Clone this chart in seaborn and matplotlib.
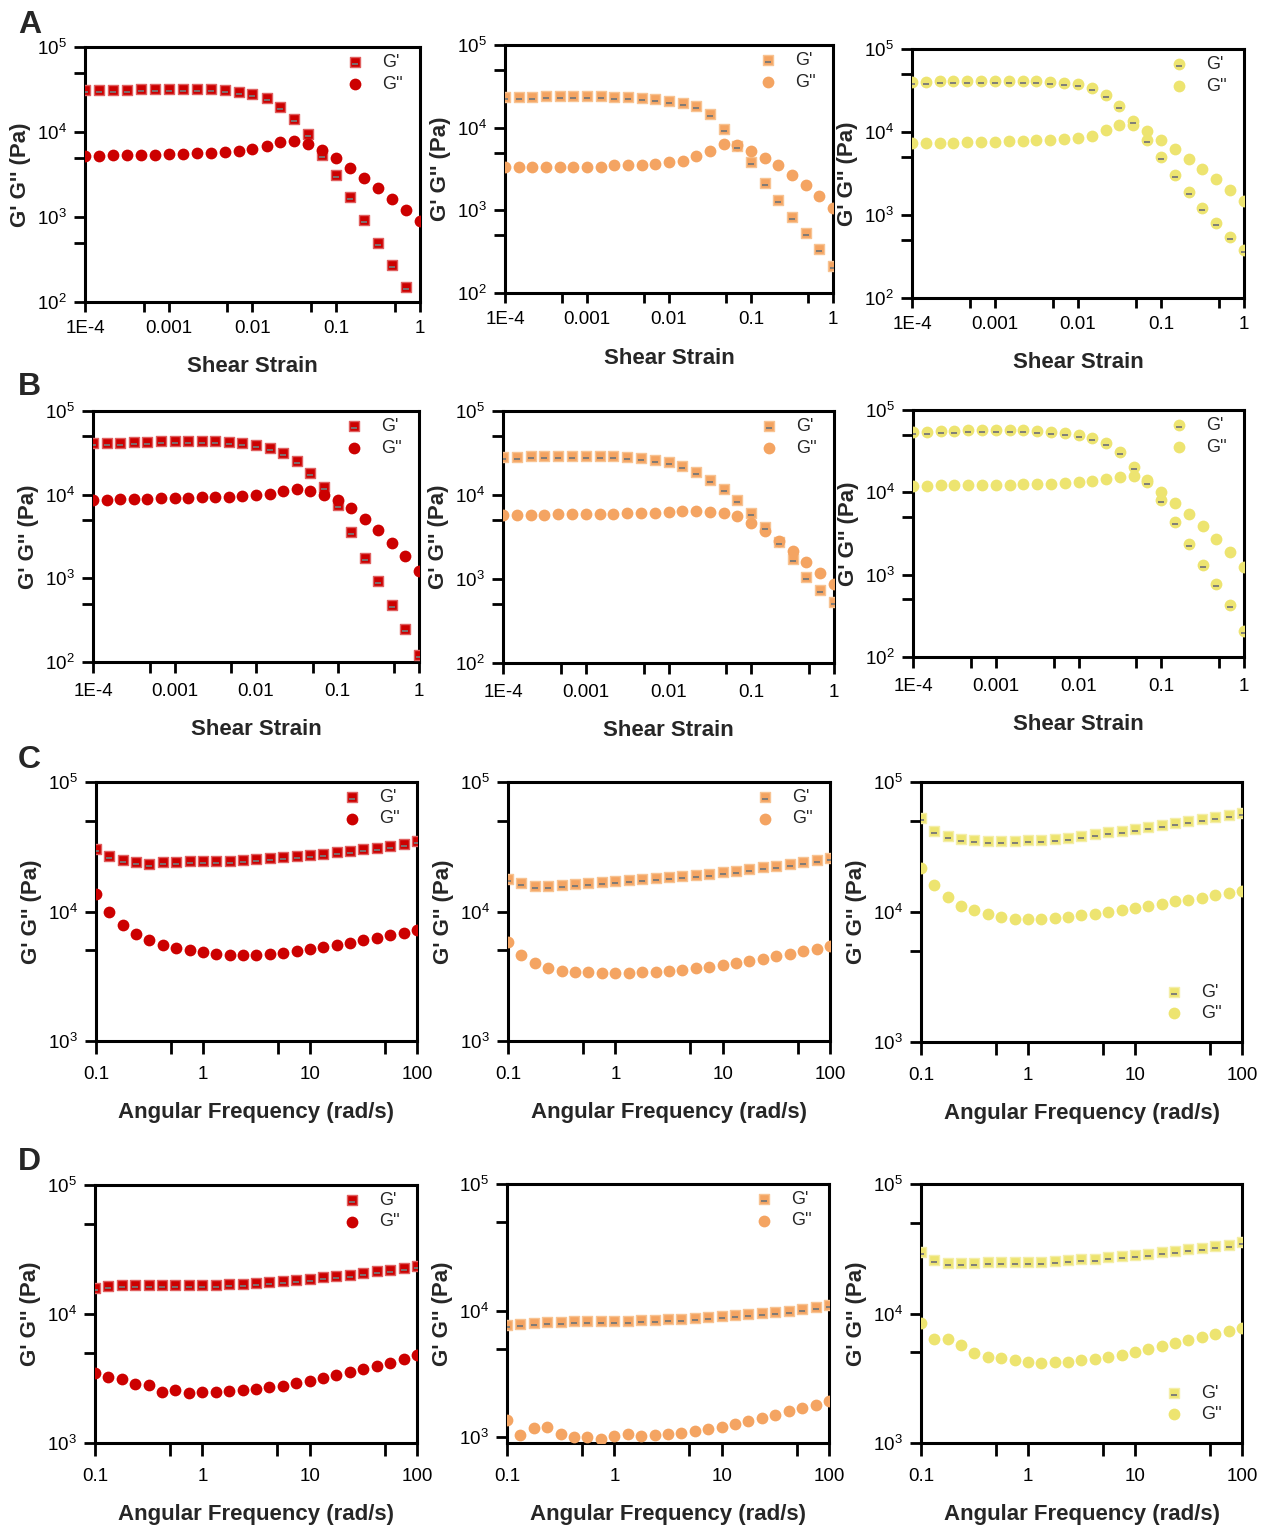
import numpy as np
import matplotlib
matplotlib.use("Agg")
import matplotlib.pyplot as plt
import seaborn as sns
from matplotlib.path import Path
from matplotlib.ticker import FixedLocator, NullFormatter, LogLocator, LogFormatterSciNotation
from matplotlib.legend_handler import HandlerTuple

nan = np.nan

# ---------------- data ----------------
strain = [1.00e-4, 1.47e-4, 2.15e-4, 3.16e-4, 4.64e-4, 6.81e-4,
          1.00e-3, 1.47e-3, 2.15e-3, 3.16e-3, 4.64e-3, 6.81e-3,
          1.00e-2, 1.47e-2, 2.15e-2, 3.16e-2, 4.64e-2, 6.81e-2,
          0.100, 0.147, 0.215, 0.316, 0.464, 0.681, 1.00]
freq = [0.1, 0.1334, 0.1778, 0.2371, 0.3162, 0.4217, 0.5623, 0.7499,
        1.0, 1.334, 1.778, 2.371, 3.162, 4.217, 5.623, 7.499,
        10.0, 13.34, 17.78, 23.71, 31.62, 42.17, 56.23, 74.99, 100.0]

A1_Gp = [30900, 30900, 30900, 31500, 31800, 31800, 32100, 32100, 31800, 31800, 30900, 29500,
         27700, 24800, 19900, 14300, 9380, 5310, 3150, 1720, 912, 489, 269, 152, nan]
A1_Gpp = [5210, 5210, 5310, 5310, 5360, 5410, 5460, 5560, 5660, 5710, 5820, 5980,
          6380, 6870, 7660, 7800, 7190, 6090, 4930, 3780, 2870, 2200, 1640, 1220, 888]
A2_Gp = [23600, 23600, 23600, 24300, 24300, 24300, 24300, 24300, 23600, 23600, 22900, 22300,
         21100, 20000, 18400, 14700, 9730, 6070, 3790, 2170, 1320, 824, 528, 339, 211]
A2_Gpp = [3300, 3300, 3300, 3300, 3390, 3390, 3390, 3390, 3490, 3490, 3580, 3680,
          3790, 4000, 4480, 5290, 6410, 6240, 5290, 4350, 3490, 2710, 2000, 1480, 1060]
A3_Gp = [40400, 40400, 40700, 41100, 41100, 41500, 41500, 41500, 41500, 41100, 40400, 38900,
         37500, 33900, 28200, 20400, 13500, 8090, 5000, 3060, 1880, 1210, 801, 543, 375]
A3_Gpp = [7360, 7360, 7360, 7430, 7510, 7580, 7650, 7730, 7800, 7950, 8020, 8170,
          8400, 8960, 10700, 12100, 12200, 10200, 8090, 6240, 4730, 3620, 2740, 2020, 1490]

B1_Gp = [41500, 41500, 41900, 42200, 43000, 43400, 43800, 43800, 43800, 43400, 43000, 41500,
         39600, 36500, 31500, 25000, 18100, 12300, 7470, 3580, 1750, 920, 484, 250, 120]
B1_Gpp = [8710, 8710, 8790, 8870, 8960, 9040, 9120, 9200, 9290, 9370, 9460, 9550,
          9820, 10200, 11200, 11700, 11200, 9910, 8710, 6930, 5170, 3750, 2670, 1850, 1220]
B2_Gp = [28300, 28300, 28800, 29100, 29400, 29400, 29400, 29100, 28800, 28300, 27300, 25900,
         24500, 21900, 18800, 15200, 11900, 8640, 6110, 4160, 2760, 1750, 1060, 733, 532]
B2_Gpp = [5730, 5730, 5780, 5830, 5890, 5890, 5940, 5940, 5990, 6050, 6110, 6160,
          6280, 6390, 6450, 6340, 6050, 5570, 4640, 3730, 2830, 2150, 1590, 1180, 879]
B3_Gp = [54000, 54000, 55600, 55600, 57100, 57100, 57100, 57100, 57100, 55600, 54000, 52600,
         49700, 45700, 39700, 30900, 20300, 13300, 8060, 4350, 2350, 1310, 769, 428, 207]
B3_Gpp = [11900, 11900, 12300, 12300, 12300, 12300, 12300, 12300, 12600, 12600, 12600, 13000,
          13300, 13700, 14500, 15400, 15800, 14100, 10100, 7420, 5460, 3900, 2710, 1880, 1240]

C1_Gp = [30600, 26700, 24900, 24000, 23400, 24000, 24100, 24400, 24400, 24500, 24500, 25000,
         25400, 25900, 26200, 26800, 27300, 28000, 28600, 29500, 30400, 31100, 32200, 33400, 34800]
C1_Gpp = [13700, 9910, 7910, 6660, 6060, 5540, 5260, 5070, 4870, 4720, 4610, 4590,
          4650, 4720, 4810, 4950, 5100, 5290, 5510, 5740, 6030, 6240, 6540, 6870, 7160]
C2_Gp = [17800, 16600, 15700, 15700, 16000, 16300, 16600, 16900, 17200, 17500, 17800, 18100,
         18500, 18800, 19100, 19500, 20200, 20500, 21300, 22100, 22500, 23300, 24100, 25000, 25900]
C2_Gpp = [5810, 4610, 4000, 3660, 3470, 3410, 3410, 3350, 3350, 3350, 3410, 3410,
          3470, 3530, 3660, 3730, 3860, 4000, 4150, 4300, 4530, 4700, 4950, 5130, 5420]
C3_Gp = [53200, 41800, 38500, 36500, 35600, 35400, 35200, 35400, 35600, 36000, 36500, 37300,
         38200, 39600, 41000, 42300, 43800, 45100, 46700, 48400, 50100, 51900, 53500, 55400, 57800]
C3_Gpp = [21900, 16200, 13000, 11200, 10300, 9590, 9150, 8890, 8790, 8840, 9000, 9210,
          9430, 9710, 10000, 10400, 10800, 11200, 11600, 12100, 12400, 12900, 13400, 13900, 14400]

D1_Gp = [15900, 16500, 16800, 16800, 16800, 16800, 16800, 16800, 16800, 16800, 17100, 17100,
         17400, 17700, 18000, 18400, 18700, 19400, 19700, 20100, 20800, 21600, 21900, 22700, 23600]
D1_Gpp = [3490, 3250, 3140, 2870, 2820, 2500, 2560, 2420, 2480, 2490, 2530, 2580,
          2620, 2700, 2770, 2920, 3030, 3190, 3370, 3550, 3750, 3950, 4170, 4480, 4810]
D2_Gp = [7740, 7890, 7980, 8090, 8190, 8240, 8290, 8290, 8340, 8340, 8380, 8490,
         8540, 8640, 8750, 8910, 9080, 9190, 9350, 9530, 9700, 9930, 10300, 10600, 11000]
D2_Gpp = [1360, 1050, 1190, 1210, 1060, 1010, 1000, 970, 1030, 1060, 1030, 1040,
          1060, 1080, 1110, 1170, 1210, 1270, 1350, 1420, 1500, 1610, 1710, 1800, 1920]
D3_Gp = [30000, 25800, 24400, 24400, 24400, 24800, 24900, 24900, 24900, 25100, 25400, 25700,
         26200, 26500, 27100, 27600, 28300, 28900, 29600, 30500, 31300, 32200, 33000, 33800, 35400]
D3_Gpp = [8510, 6330, 6330, 5760, 4990, 4620, 4540, 4410, 4250, 4180, 4200, 4230,
          4360, 4460, 4620, 4820, 5060, 5340, 5590, 5930, 6290, 6560, 6970, 7350, 7740]

strain_ticks = [1e-4, 1e-3, 1e-2, 1e-1, 1]
strain_tick_labels = ["1E-4", "0.001", "0.01", "0.1", "1"]
freq_ticks = [0.1, 1, 10, 100]
freq_tick_labels = ["0.1", "1", "10", "100"]
legend_labels = ["G'", "G''"]
ylabel_text = "G' G'' (Pa)"
xlabel_strain = "Shear Strain"
xlabel_freq = "Angular Frequency (rad/s)"
panel_letters = ["A", "B", "C", "D"]

RED, ORANGE, YELLOW = "#CC0000", "#F4A462", "#EDE470"
EDGE = {RED: "#E06060", ORANGE: "#F8C392", YELLOW: "#F4EEA8"}

# ---------------- style ----------------
sns.set_theme(style="ticks")
plt.rcParams.update({
    "font.family": ["Liberation Sans", "DejaVu Sans"],
    "mathtext.default": "regular",
    "axes.linewidth": 2.2,
    "axes.edgecolor": "black",
    "xtick.color": "black",
    "ytick.color": "black",
})

W, H = 1270, 1530
fig = plt.figure(figsize=(W / 100, H / 100), dpi=100)

# (left, right, top, bottom) in pixels
boxes = [
    [(85, 420, 47, 302), (505, 833, 45, 293), (912, 1244, 49, 298)],
    [(93, 419, 411, 662), (503, 834, 411, 663), (913, 1244, 410, 657)],
    [(96, 417, 782, 1041), (508, 830, 782, 1041), (921, 1242, 782, 1042)],
    [(95, 417, 1185, 1443), (507, 829, 1184, 1443), (921, 1242, 1184, 1443)],
]

panels = [
    [(A1_Gp, A1_Gpp, RED, "s"), (A2_Gp, A2_Gpp, ORANGE, "s"), (A3_Gp, A3_Gpp, YELLOW, "o")],
    [(B1_Gp, B1_Gpp, RED, "s"), (B2_Gp, B2_Gpp, ORANGE, "s"), (B3_Gp, B3_Gpp, YELLOW, "o")],
    [(C1_Gp, C1_Gpp, RED, "s"), (C2_Gp, C2_Gpp, ORANGE, "s"), (C3_Gp, C3_Gpp, YELLOW, "s")],
    [(D1_Gp, D1_Gpp, RED, "s"), (D2_Gp, D2_Gpp, ORANGE, "s"), (D3_Gp, D3_Gpp, YELLOW, "s")],
]

# small gray dash marker (slightly below centre)
dash_marker = Path([(0, 1.0), (-0.4, -0.28), (0.4, -0.28)],
                   [Path.MOVETO, Path.MOVETO, Path.LINETO])
letter_y = [25, 387, 760, 1162]
tick_len = [7, 8, 9, 9]
tick_pad = [6, 7, 9, 9]

for r in range(4):
    strain_row = r < 2
    xs = strain if strain_row else freq
    for c in range(3):
        l, rr, t, b = boxes[r][c]
        ax = fig.add_axes([l / W, 1 - b / H, (rr - l) / W, (b - t) / H])
        gp, gpp, col, mk = panels[r][c]
        if mk == "s":
            sns.scatterplot(x=xs, y=gp, marker="s", s=46, color=col, edgecolor=EDGE[col],
                            linewidth=1.0, ax=ax, legend=False, zorder=3)
        else:
            sns.scatterplot(x=xs, y=gp, marker="o", s=72, color=col, edgecolor=col,
                            linewidth=0, ax=ax, legend=False, zorder=3)
        h1 = ax.collections[-1]
        sns.scatterplot(x=xs, y=gpp, marker="o", s=72, color=col, edgecolor=col,
                        linewidth=0, ax=ax, legend=False, zorder=4)
        h2 = ax.collections[-1]
        sns.scatterplot(x=xs, y=gp, marker=dash_marker, s=110, color="#777777",
                        edgecolor="#777777", linewidth=1.3, ax=ax, legend=False, zorder=5)
        hd = ax.collections[-1]

        ax.set_xscale("log")
        ax.set_yscale("log")
        if strain_row:
            ax.set_xlim(1e-4, 1)
            ax.set_ylim(1e2, 1e5)
            ax.set_xticks(strain_ticks, labels=strain_tick_labels)
            ax.xaxis.set_minor_locator(FixedLocator([5e-4, 5e-3, 5e-2, 5e-1]))
            ax.set_xlabel(xlabel_strain, fontsize=16, fontweight="bold", labelpad=14)
        else:
            ax.set_xlim(0.1, 100)
            ax.set_ylim(900 if (r == 3 and c == 1) else 1e3, 1e5)
            ax.set_xticks(freq_ticks, labels=freq_tick_labels)
            ax.xaxis.set_minor_locator(FixedLocator([0.5, 5, 50]))
            ax.set_xlabel(xlabel_freq, fontsize=16, fontweight="bold", labelpad=14)
        ax.xaxis.set_minor_formatter(NullFormatter())
        ax.yaxis.set_major_locator(LogLocator(base=10, numticks=10))
        ax.yaxis.set_major_formatter(LogFormatterSciNotation())
        ax.yaxis.set_minor_locator(FixedLocator([5e2, 5e3, 5e4]))
        ax.yaxis.set_minor_formatter(NullFormatter())
        ax.set_ylabel(ylabel_text, fontsize=16, fontweight="bold", labelpad=4)
        ax.tick_params(axis="x", which="both", direction="out", length=tick_len[r], width=2,
                       labelsize=13.5, pad=tick_pad[r])
        ax.tick_params(axis="y", which="both", direction="out", length=8, width=2,
                       labelsize=13.5, pad=5)
        for sp in ax.spines.values():
            sp.set_visible(True)
            sp.set_linewidth(2.2)

        if c == 2 and r >= 2:
            leg_kw = dict(loc="lower right", bbox_to_anchor=(0.97, 0.035))
        else:
            leg_kw = dict(loc="upper right", bbox_to_anchor=(0.98, 1.015))
        ax.legend([(h1, hd), h2], legend_labels, frameon=False, fontsize=13,
                  handler_map={tuple: HandlerTuple(ndivide=1, pad=0)},
                  handletextpad=0.9, labelspacing=0.25, borderaxespad=0.2,
                  handlelength=1.2, scatterpoints=1, **leg_kw)

    fig.text(18 / W, 1 - letter_y[r] / H, panel_letters[r], fontsize=23,
             fontweight="bold", ha="left", va="center")

fig.savefig("out.png", dpi=100)
